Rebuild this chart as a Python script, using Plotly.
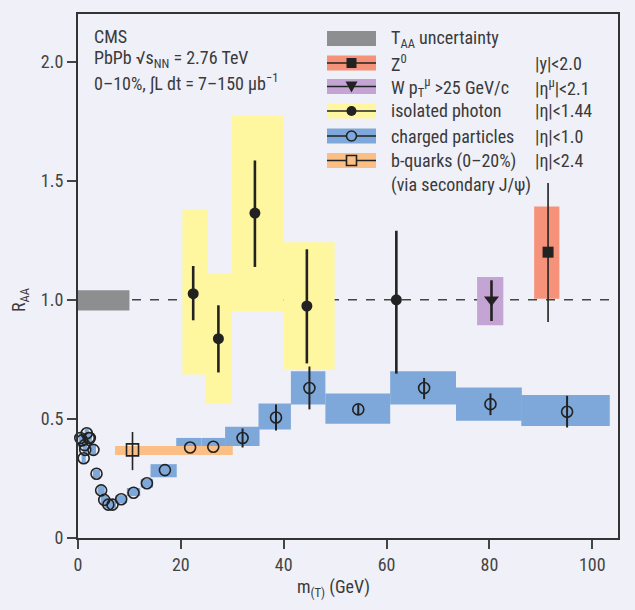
import plotly.graph_objects as go

# ---------------- data ----------------
# charged particles
cp_x = [0.45, 0.8, 1.1, 1.3, 1.4, 1.7, 2.1, 2.3, 3.0, 3.6, 4.5, 5.1, 5.9, 6.7, 8.4, 10.8, 13.4,
        16.9, 21.8, 26.3, 32.0, 38.5, 45.0, 54.5, 67.3, 80.2, 95.1]
cp_y = [0.42, 0.41, 0.335, 0.39, 0.37, 0.44, 0.42, 0.42, 0.37, 0.27, 0.20, 0.16, 0.14, 0.14, 0.163, 0.19, 0.23,
        0.285, 0.38, 0.383, 0.42, 0.506, 0.63, 0.54, 0.63, 0.562, 0.53]
cp_err_up = [0, 0, 0, 0, 0, 0, 0, 0, 0, 0, 0, 0, 0, 0, 0, 0, 0,
             0, 0, 0, 0.04, 0.055, 0.09, 0.02, 0.042, 0.045, 0.067]
cp_err_dn = [0, 0, 0, 0, 0, 0, 0, 0, 0, 0, 0, 0, 0, 0, 0, 0, 0,
             0, 0, 0, 0.04, 0.055, 0.09, 0.02, 0.047, 0.046, 0.066]
cp_sys_xlo = [0.1, 0.4, 0.7, 0.9, 1.0, 1.3, 1.7, 1.9, 2.5, 2.9, 3.8, 4.4, 5.2, 6.0, 7.3, 9.5, 12.2,
              14.1, 19.1, 24.0, 28.6, 35.1, 41.4, 48.1, 60.7, 73.5, 86.2]
cp_sys_xhi = [0.8, 1.2, 1.5, 1.7, 1.8, 2.1, 2.5, 2.7, 3.5, 4.3, 5.2, 5.8, 6.6, 7.4, 9.5, 12.1, 14.6,
              19.2, 24.0, 28.6, 35.3, 41.4, 48.1, 60.7, 73.5, 86.3, 103.4]
cp_sys_ylo = [0.40, 0.39, 0.315, 0.37, 0.35, 0.42, 0.40, 0.40, 0.35, 0.252, 0.182, 0.143, 0.123, 0.123, 0.146, 0.176, 0.212,
              0.255, 0.35, 0.35, 0.386, 0.456, 0.56, 0.48, 0.56, 0.492, 0.47]
cp_sys_yhi = [0.44, 0.43, 0.355, 0.41, 0.39, 0.46, 0.44, 0.44, 0.39, 0.288, 0.218, 0.177, 0.157, 0.157, 0.18, 0.21, 0.248,
              0.31, 0.42, 0.42, 0.467, 0.565, 0.70, 0.607, 0.70, 0.632, 0.60]

# isolated photon
ph_x = [22.4, 27.3, 34.4, 44.5, 61.9]
ph_y = [1.026, 0.837, 1.364, 0.974, 1.0]
ph_err_up = [0.116, 0.14, 0.221, 0.238, 0.29]
ph_err_dn = [0.112, 0.142, 0.226, 0.241, 0.31]
ph_sys_xlo = [20.3, 24.8, 29.9, 40.0]
ph_sys_xhi = [25.2, 29.9, 40.0, 49.9]
ph_sys_ylo = [0.686, 0.565, 0.953, 0.709]
ph_sys_yhi = [1.38, 1.11, 1.774, 1.242]

# Z0
z_x = [91.4]
z_y = [1.20]
z_err_up = [0.29]
z_err_dn = [0.293]
z_sys = [88.7, 93.6, 1.005, 1.392]

# W
w_x = [80.4]
w_y = [1.0]
w_err_up = [0.082]
w_err_dn = [0.089]
w_sys = [77.6, 82.7, 0.893, 1.096]

# b-quarks
b_x = [10.6]
b_y = [0.37]
b_err_up = [0.075]
b_err_dn = [0.085]
b_sys = [7.2, 30.1, 0.348, 0.386]

# T_AA uncertainty
taa_box = [0.0, 10.0, 0.955, 1.04]

x_ticks = [0, 20, 40, 60, 80, 100]
y_ticks = [0, 0.5, 1.0, 1.5, 2.0]
y_ticklabels = ["0", "0.5", "1.0", "1.5", "2.0"]

# ---------------- style ----------------
BG = "#EFF0F8"
GRAY = "#8D8E90"
ORANGE_Z = "#F59279"
PURPLE = "#C4A4D4"
YELLOW = "#FFF7A0"
BLUE = "#7EA8DA"
ORANGE_B = "#FBBE84"
INK = "#222222"
TXT = "#3a3a3a"
FONT = "Liberation Sans Narrow, Arial Narrow, Roboto Condensed, Liberation Sans, sans-serif"
FS = 18

L, R, T, B = 78, 17, 14, 72
W, H = 635, 610
PW, PH = W - L - R, H - T - B


def pxx(p):
    return (p - L) / PW


def pxy(p):
    return (H - B - p) / PH


fig = go.Figure()
shapes = []


def box(x0, x1, y0, y1, color):
    shapes.append(dict(type="rect", xref="x", yref="y", x0=x0, x1=x1, y0=y0, y1=y1,
                       fillcolor=color, line=dict(width=0), layer="below"))


box(*taa_box, GRAY)
for i in range(len(ph_sys_xlo)):
    box(ph_sys_xlo[i], ph_sys_xhi[i], ph_sys_ylo[i], ph_sys_yhi[i], YELLOW)
for i in range(len(cp_x)):
    box(cp_sys_xlo[i], cp_sys_xhi[i], cp_sys_ylo[i], cp_sys_yhi[i], BLUE)
box(*b_sys, ORANGE_B)
box(*w_sys, PURPLE)
box(*z_sys, ORANGE_Z)

# dashed unity line
shapes.append(dict(type="line", xref="paper", yref="y", x0=0, x1=1, y0=1, y1=1,
                   line=dict(color="#444444", width=1.6, dash="dash"), layer="below"))

# traces
fig.add_trace(go.Scatter(x=cp_x, y=cp_y, mode="markers", cliponaxis=False,
                         marker=dict(symbol="circle-open", size=11, color=INK, line=dict(width=1.6, color=INK)),
                         error_y=dict(type="data", array=cp_err_up, arrayminus=cp_err_dn,
                                      color=INK, thickness=2, width=0)))
fig.add_trace(go.Scatter(x=ph_x, y=ph_y, mode="markers",
                         marker=dict(symbol="circle", size=11, color=INK),
                         error_y=dict(type="data", array=ph_err_up, arrayminus=ph_err_dn,
                                      color=INK, thickness=2.6, width=0)))
fig.add_trace(go.Scatter(x=z_x, y=z_y, mode="markers",
                         marker=dict(symbol="square", size=11, color=INK),
                         error_y=dict(type="data", array=z_err_up, arrayminus=z_err_dn,
                                      color=INK, thickness=1.6, width=0)))
fig.add_trace(go.Scatter(x=w_x, y=w_y, mode="markers",
                         marker=dict(symbol="triangle-down", size=13, color=INK),
                         error_y=dict(type="data", array=w_err_up, arrayminus=w_err_dn,
                                      color=INK, thickness=2.6, width=0)))
fig.add_trace(go.Scatter(x=b_x, y=b_y, mode="markers",
                         marker=dict(symbol="square-open", size=12, color=INK, line=dict(width=1.6, color=INK)),
                         error_y=dict(type="data", array=b_err_up, arrayminus=b_err_dn,
                                      color=INK, thickness=1.6, width=0)))

# ---------------- legend (drawn) ----------------
annotations = []


def text(x, y, s, anchor="left", size=FS, angle=0):
    annotations.append(dict(xref="paper", yref="paper", x=pxx(x), y=pxy(y), text=s, showarrow=False,
                            xanchor=anchor, yanchor="middle", textangle=angle,
                            font=dict(family=FONT, size=size, color=TXT)))


lx0, lx1, lxc = 327, 376, 351.5
rows = [38.5, 63, 86.5, 111, 136, 160.5]
colors = [GRAY, ORANGE_Z, PURPLE, YELLOW, BLUE, ORANGE_B]
labels = ["T<sub>AA</sub> uncertainty", "Z<sup>0</sup>", "W p<sub>T</sub><sup>μ</sup> >25 GeV/c",
          "isolated photon", "charged particles", "b-quarks (0–20%)"]
cuts = [None, "|y|<2.0", "|η<sup>μ</sup>|<2.1", "|η|<1.44", "|η|<1.0", "|η|<2.4"]
for i, yc in enumerate(rows):
    shapes.append(dict(type="rect", xref="paper", yref="paper", x0=pxx(lx0), x1=pxx(lx1),
                       y0=pxy(yc + 7.5), y1=pxy(yc - 7.5), fillcolor=colors[i], line=dict(width=0)))
    if i > 0:
        shapes.append(dict(type="line", xref="paper", yref="paper", x0=pxx(lx0), x1=pxx(lx1),
                           y0=pxy(yc), y1=pxy(yc), line=dict(color=INK, width=1.6)))
    text(389, yc, labels[i])
    if cuts[i]:
        text(533, yc, cuts[i])
# legend markers
r = 5
yc = rows[1]
shapes.append(dict(type="rect", xref="paper", yref="paper", x0=pxx(lxc - r), x1=pxx(lxc + r),
                   y0=pxy(yc + r), y1=pxy(yc - r), fillcolor=INK, line=dict(width=0)))
yc = rows[2]
shapes.append(dict(type="path", xref="paper", yref="paper",
                   path="M %f %f L %f %f L %f %f Z" % (pxx(lxc - 6), pxy(yc - 5), pxx(lxc + 6), pxy(yc - 5),
                                                      pxx(lxc), pxy(yc + 6)),
                   fillcolor=INK, line=dict(width=0)))
yc = rows[3]
shapes.append(dict(type="circle", xref="paper", yref="paper", x0=pxx(lxc - r), x1=pxx(lxc + r),
                   y0=pxy(yc + r), y1=pxy(yc - r), fillcolor=INK, line=dict(width=0)))
yc = rows[4]
shapes.append(dict(type="circle", xref="paper", yref="paper", x0=pxx(lxc - r), x1=pxx(lxc + r),
                   y0=pxy(yc + r), y1=pxy(yc - r), fillcolor=BLUE, line=dict(width=1.6, color=INK)))
yc = rows[5]
shapes.append(dict(type="rect", xref="paper", yref="paper", x0=pxx(lxc - r), x1=pxx(lxc + r),
                   y0=pxy(yc + r), y1=pxy(yc - r), fillcolor=ORANGE_B, line=dict(width=1.6, color=INK)))
text(389, 185, "(via secondary J/ψ)")

# top-left text
text(92, 36, "CMS")
text(92, 59, "PbPb √s<sub>NN</sub> = 2.76 TeV")
text(92, 82, "0–10%, ∫L dt = 7–150 μb<sup>−1</sup>")

# axis titles
text(20, 300, "R<sub>AA</sub>", anchor="center", angle=-90)
text(333, 588, "m<sub>(T)</sub> (GeV)", anchor="center")

fig.update_layout(
    width=W, height=H, margin=dict(l=L, r=R, t=T, b=B),
    paper_bgcolor=BG, plot_bgcolor=BG, showlegend=False,
    shapes=shapes, annotations=annotations,
    font=dict(family=FONT, size=FS, color=TXT),
    xaxis=dict(range=[0, 105], tickvals=x_ticks, ticks="outside", ticklen=9, tickwidth=1.5, tickcolor="#444",
               showline=True, linewidth=2, linecolor="#333", mirror=True, showgrid=False, zeroline=False,
               tickfont=dict(family=FONT, size=FS, color="#444")),
    yaxis=dict(range=[0, 2.2], tickvals=y_ticks, ticktext=y_ticklabels, ticks="outside", ticklen=9,
               tickwidth=1.5, tickcolor="#444",
               showline=True, linewidth=2, linecolor="#333", mirror=True, showgrid=False, zeroline=False,
               tickfont=dict(family=FONT, size=FS, color="#444")),
)

fig.write_html("out.html", config={"displayModeBar": False},
               post_script="document.body.style.margin='0';document.body.style.padding='0';"
                           "document.body.style.background='" + BG + "';"
                           "document.documentElement.style.background='" + BG + "';")
